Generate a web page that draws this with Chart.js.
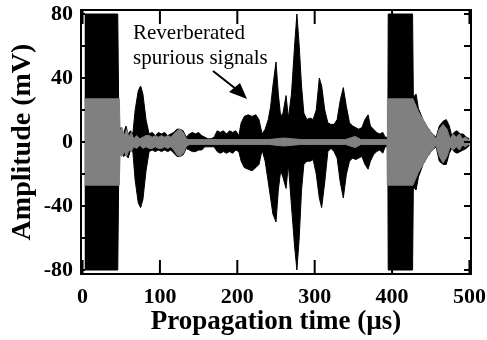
<!DOCTYPE html>
<html>
<head>
<meta charset="utf-8">
<script src="https://cdn.jsdelivr.net/npm/chart.js@4.4.0/dist/chart.umd.min.js"></script>
<style>
  body { margin: 0; background: #fff; }
</style>
</head>
<body>
<canvas id="wave" width="487" height="340"></canvas>
<script>
// black trace: envelope of the full received signal (mV)
const blackTime = [
  2.5, 45.5, 47, 50, 53, 56, 59, 62, 65, 68,
  72, 75, 78, 82, 86, 90, 94, 98, 102, 106,
  110, 114, 118, 122, 126, 130, 134, 138, 142, 146,
  150, 154, 158, 162, 166, 170, 174, 178, 182, 186,
  190, 194, 198, 202, 205, 209, 214, 219, 224, 228,
  232, 236, 240, 243, 246, 250, 253, 256, 259, 263,
  266, 270, 274, 277, 280, 283, 286, 290, 294, 298,
  302, 306, 309, 313, 317, 321, 325, 329, 333, 337,
  341, 345, 349, 353, 357, 361, 365, 369, 372, 376,
  380, 384, 388, 391, 394.5, 395, 426.5, 427.5, 431, 434,
  440, 446, 452, 457, 461, 466, 470, 474, 477, 480,
  484, 488, 492, 496, 500
];
const blackTop = [
  80, 80, 8, 9, 5, 10, 5, 7, 5, 20,
  32, 35, 30, 14, 5, 6, 4, 6, 5, 6,
  4, 5, 6, 8, 8, 7, 3, 5, 6, 5,
  6, 4, 3, 2, 2, 3, 7, 6, 7, 5,
  7, 6, 7, 4, 12, 16, 17, 16, 17, 14,
  5, 8, 14, 22, 35, 50, 30, 16, 18, 29,
  15, 30, 60, 80, 60, 35, 18, 14, 15, 14,
  20, 40, 35, 20, 12, 11, 11, 14, 26, 34,
  22, 12, 10, 9, 8, 9, 14, 17, 10, 8,
  6, 5, 6, 3, 3, 80, 80, 28, 30, 21,
  14, 9, 5, 3, 10, 13, 14, 10, 4, 6,
  7, 5, 5, 3, 2
];
const blackBottom = [
  -80, -80, -9, -6, -9, -8, -10, -5, -6, -24,
  -38, -41, -36, -18, -6, -5, -6, -5, -6, -5,
  -6, -5, -7, -9, -9, -8, -4, -5, -6, -6,
  -5, -5, -3, -3, -3, -3, -6, -7, -6, -7,
  -6, -7, -5, -6, -12, -16, -17, -18, -16, -14,
  -5, -12, -25, -35, -45, -50, -30, -18, -22, -29,
  -14, -40, -65, -80, -60, -30, -14, -12, -12, -11,
  -20, -35, -41, -25, -6, -4, -6, -10, -25, -35,
  -20, -12, -10, -11, -10, -9, -14, -17, -12, -8,
  -6, -5, -7, -3, -3, -80, -80, -28, -30, -22,
  -14, -9, -5, -3, -12, -14, -14, -7, -4, -6,
  -7, -6, -5, -4, -2
];

// gray trace: envelope of the processed signal (mV)
const grayTime = [
  2.5, 47.5, 48.5, 51, 54, 57, 60, 63, 66, 70,
  74, 78, 82, 86, 90, 94, 98, 102, 106, 110,
  114, 118, 122, 126, 130, 134, 138, 160, 200, 240,
  260, 283, 300, 340, 352, 360, 393.5, 394, 427, 434,
  440, 446, 452, 457, 461, 466, 471, 475, 479, 483,
  487, 491, 495, 500
];
const grayTop = [
  27, 27, 7, 9, 4, 8, 3, 6, 2, 4,
  2, 3, 4, 4, 3, 4, 3, 4, 3, 4,
  3, 5, 7, 8, 6, 2, 1.5, 1.5, 1.5, 1.5,
  2.5, 1.5, 1.5, 1.5, 3.5, 1.5, 1.5, 27, 27, 19,
  14, 9, 5, 2, 8, 11, 8, 2, 5, 3,
  5, 2, 3, 1
];
const grayBottom = [
  -27, -27, -8, -9, -6, -9, -5, -6, -3, -4,
  -2, -4, -3, -4, -4, -3, -4, -4, -3, -4,
  -3, -5, -8, -9, -7, -3, -1.5, -1.5, -1.5, -1.5,
  -2.5, -1.5, -1.5, -1.5, -3.5, -1.5, -1.5, -27, -27, -19,
  -14, -9, -5, -2, -9, -13, -9, -3, -5, -3,
  -5, -2, -3, -1
];

const xTicks = [0, 100, 200, 300, 400, 500];
const yTicks = [-80, -60, -40, -20, 0, 20, 40, 60, 80];
const yLabelled = [-80, -40, 0, 40, 80];

function pts(t, v) {
  return t.map((x, i) => ({ x: x, y: v[i] }));
}

const GRAY = '#808080';

const framePlugin = {
  id: 'frame',
  afterDraw(chart) {
    const ctx = chart.ctx;
    const a = chart.chartArea;
    const sx = chart.scales.x, sy = chart.scales.y;
    ctx.save();
    ctx.strokeStyle = '#000';
    ctx.lineWidth = 2;
    ctx.strokeRect(a.left, a.top, a.right - a.left, a.bottom - a.top);
    ctx.beginPath();
    xTicks.forEach(v => {
      const px = sx.getPixelForValue(v);
      ctx.moveTo(px, a.bottom); ctx.lineTo(px, a.bottom - 14);
      ctx.moveTo(px, a.top); ctx.lineTo(px, a.top + 14);
    });
    yTicks.forEach(v => {
      const py = sy.getPixelForValue(v);
      ctx.moveTo(a.left, py); ctx.lineTo(a.left + 4, py);
      ctx.moveTo(a.right, py); ctx.lineTo(a.right - 7, py);
    });
    ctx.stroke();

    // annotation
    ctx.fillStyle = '#000';
    ctx.font = '21px "Liberation Serif"';
    ctx.textBaseline = 'alphabetic';
    ctx.textAlign = 'left';
    ctx.fillText('Reverberated', 133, 39);
    ctx.fillText('spurious signals', 133, 64);

    ctx.lineWidth = 2;
    ctx.beginPath();
    ctx.moveTo(213, 71);
    ctx.lineTo(236, 89);
    ctx.stroke();
    ctx.beginPath();
    ctx.moveTo(247, 99);
    ctx.lineTo(229, 92);
    ctx.lineTo(240, 83);
    ctx.closePath();
    ctx.fill();
    ctx.restore();
  }
};

const ctx = document.getElementById('wave');
const chart = new Chart(ctx, {
  type: 'line',
  data: {
    datasets: [
      { data: pts(grayTime, grayTop), borderColor: GRAY, backgroundColor: GRAY, borderWidth: 1, pointRadius: 0, fill: '+1' },
      { data: pts(grayTime, grayBottom), borderColor: GRAY, backgroundColor: GRAY, borderWidth: 1, pointRadius: 0, fill: false },
      { data: pts(blackTime, blackTop), borderColor: '#000', backgroundColor: '#000', borderWidth: 1, pointRadius: 0, fill: '+1' },
      { data: pts(blackTime, blackBottom), borderColor: '#000', backgroundColor: '#000', borderWidth: 1, pointRadius: 0, fill: false }
    ]
  },
  options: {
    responsive: false,
    animation: false,
    layout: { padding: { top: 10, right: 16, left: 0, bottom: 0 } },
    plugins: { legend: { display: false }, tooltip: { enabled: false } },
    elements: { line: { tension: 0 } },
    scales: {
      x: {
        type: 'linear',
        min: -2,
        max: 502,
        grid: { display: false, drawTicks: false },
        border: { display: false },
        afterBuildTicks: s => { s.ticks = xTicks.map(v => ({ value: v })); },
        afterFit: s => { s.height = 66; s.paddingLeft = 0; s.paddingRight = 0; },
        ticks: {
          color: '#000',
          padding: 10,
          maxRotation: 0,
          font: { family: '"Liberation Serif"', size: 22, weight: 'bold' }
        },
        title: {
          display: true,
          text: 'Propagation time (\u00b5s)',
          color: '#000',
          padding: { top: 0, bottom: 2 },
          font: { family: '"Liberation Serif"', size: 27, weight: 'bold' }
        }
      },
      y: {
        min: -82.5,
        max: 82.5,
        grid: { display: false, drawTicks: false },
        border: { display: false },
        afterBuildTicks: s => { s.ticks = yTicks.map(v => ({ value: v })); },
        afterFit: s => { s.width = 81; s.paddingTop = 0; s.paddingBottom = 0; },
        ticks: {
          color: '#000',
          padding: 8,
          callback: v => yLabelled.includes(v) ? String(v) : '',
          font: { family: '"Liberation Serif"', size: 22, weight: 'bold' }
        },
        title: {
          display: true,
          text: 'Amplitude (mV)',
          color: '#000',
          padding: { top: 6, bottom: 0 },
          font: { family: '"Liberation Serif"', size: 28, weight: 'bold' }
        }
      }
    }
  },
  plugins: [framePlugin]
});
</script>
</body>
</html>
